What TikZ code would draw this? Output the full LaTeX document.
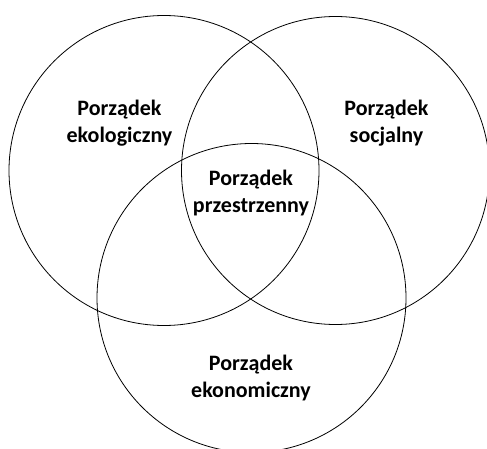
\documentclass[tikz,border=0pt]{standalone}
\usepackage{fontspec}
\setmainfont{Carlito}
\begin{document}
\begin{tikzpicture}[x=1pt,y=-1pt,
  ring/.style={draw=black,line width=0.8pt},
  lbl/.style={font=\fontsize{22}{26.5}\selectfont\bfseries,align=center,inner sep=0pt}]
\useasboundingbox (0,0) rectangle (487,449);
\clip (0,0) rectangle (487,449);
\node[ring,circle,minimum size=310pt,inner sep=0pt] (eko) at (164,170.5) {};
\node[ring,circle,minimum size=308pt,inner sep=0pt] (soc) at (335.5,170.5) {};
\node[ring,circle,minimum size=309pt,inner sep=0pt] (ekon) at (251.5,298) {};
\node[lbl] (t1) at (119.5,123) {Porządek\\ekologiczny};
\node[lbl] (t2) at (386.5,123) {Porządek\\socjalny};
\node[lbl] (t3) at (251,193) {Porządek\\przestrzenny};
\node[lbl] (t4) at (251,378) {Porządek\\ekonomiczny};
\end{tikzpicture}
\end{document}
